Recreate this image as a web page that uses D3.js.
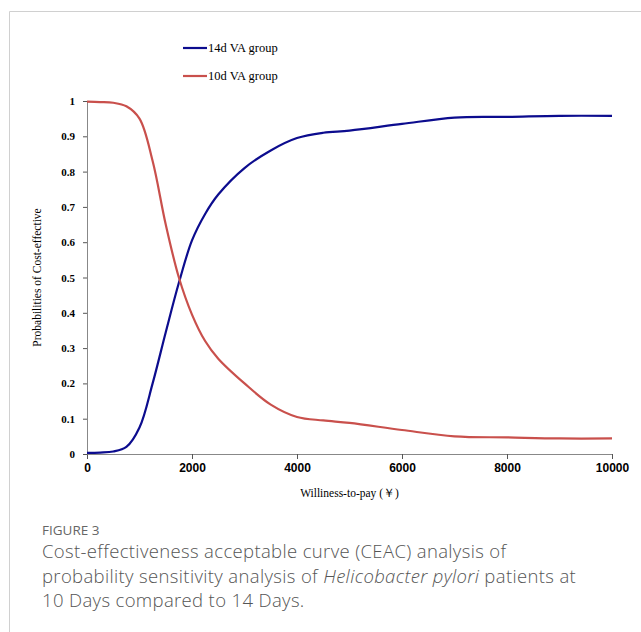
<!DOCTYPE html>
<html>
<head>
<meta charset="utf-8">
<script src="https://cdn.jsdelivr.net/npm/d3@7"></script>
<style>
  body { margin: 0; background: #fff; }
  #chart { position: relative; width: 641px; height: 632px; }
</style>
</head>
<body>
<div id="chart"></div>
<script>
// willingness-to-pay values (x) and probabilities
var wtp = [0, 250, 500, 750, 1000, 1250, 1500, 1750, 2000, 2250, 2500, 3000, 3500, 4000, 4500, 5000, 6000, 7000, 8000, 9000, 10000];
var group14 = [0.003, 0.004, 0.007, 0.02, 0.075, 0.2, 0.345, 0.485, 0.605, 0.68, 0.735, 0.81, 0.86, 0.895, 0.91, 0.916, 0.935, 0.953, 0.955, 0.958, 0.958];
var group10 = [0.998, 0.997, 0.995, 0.985, 0.95, 0.83, 0.65, 0.50, 0.395, 0.32, 0.27, 0.20, 0.14, 0.105, 0.095, 0.088, 0.068, 0.05, 0.047, 0.044, 0.044];
var seriesNames = ["14d VA group", "10d VA group"];
var seriesColors = ["#0c0c8e", "#c9504c"];
var xTicks = [0, 2000, 4000, 6000, 8000, 10000];
var yTicks = [0, 0.1, 0.2, 0.3, 0.4, 0.5, 0.6, 0.7, 0.8, 0.9, 1];

var width = 641, height = 632;
var plot = {left: 87, right: 612, top: 101, bottom: 454};

var svg = d3.select("#chart").append("svg")
    .attr("width", width)
    .attr("height", height);

// figure frame (top + left edge)
svg.append("path")
    .attr("d", "M9.5,632 V11.5 H641")
    .style("fill", "none")
    .style("stroke", "#d0d0d0")
    .style("stroke-width", 1);

var x = d3.scaleLinear().domain([0, 10000]).range([plot.left, plot.right]);
var y = d3.scaleLinear().domain([0, 1]).range([plot.bottom, plot.top]);

// x axis
var xAxis = svg.append("g")
    .attr("transform", "translate(0," + plot.bottom + ")")
    .call(d3.axisBottom(x).tickValues(xTicks).tickSize(5).tickSizeOuter(0).tickFormat(d3.format("d")));
xAxis.select(".domain").style("stroke", "#888");
xAxis.selectAll(".tick line").style("stroke", "#555");
xAxis.selectAll(".tick text")
    .attr("y", 9)
    .style("font-family", "Arial, 'Liberation Sans', sans-serif")
    .style("font-weight", "bold")
    .style("font-size", "12px")
    .style("fill", "#000");

// y axis
var yAxis = svg.append("g")
    .attr("transform", "translate(" + plot.left + ",0)")
    .call(d3.axisLeft(y).tickValues(yTicks).tickSize(4).tickSizeOuter(0).tickFormat(function(d) { return String(d); }));
yAxis.select(".domain").style("stroke", "#888");
yAxis.selectAll(".tick line").style("stroke", "#555");
yAxis.selectAll(".tick text")
    .attr("x", -12)
    .style("font-family", "'Liberation Serif', 'Times New Roman', serif")
    .style("font-weight", "bold")
    .style("font-size", "11px")
    .style("fill", "#000");

// axis titles
svg.append("text")
    .attr("transform", "translate(41," + ((plot.top + plot.bottom) / 2) + ") rotate(-90)")
    .attr("text-anchor", "middle")
    .style("font-family", "'Liberation Serif', 'Times New Roman', serif")
    .style("font-size", "11.5px")
    .text("Probabilities of Cost-effective");

svg.append("text")
    .attr("x", (plot.left + plot.right) / 2)
    .attr("y", 497)
    .attr("text-anchor", "middle")
    .style("font-family", "'Liberation Serif', 'Times New Roman', serif")
    .style("font-size", "11.5px")
    .text("Williness-to-pay (\uFFE5)");

// curves
var line = d3.line()
    .x(function(d) { return x(d[0]); })
    .y(function(d) { return y(d[1]); })
    .curve(d3.curveCatmullRom.alpha(0.5));

[group14, group10].forEach(function(vals, i) {
    svg.append("path")
        .datum(wtp.map(function(w, j) { return [w, vals[j]]; }))
        .attr("d", line)
        .style("fill", "none")
        .style("stroke", seriesColors[i])
        .style("stroke-width", 2.2);
});

// legend
seriesNames.forEach(function(name, i) {
    var ly = 48 + i * 28;
    svg.append("line")
        .attr("x1", 183).attr("x2", 207)
        .attr("y1", ly).attr("y2", ly)
        .style("stroke", seriesColors[i])
        .style("stroke-width", 2.2);
    svg.append("text")
        .attr("x", 208)
        .attr("y", ly + 4)
        .style("font-family", "'Liberation Serif', 'Times New Roman', serif")
        .style("font-size", "12.5px")
        .text(name);
});

// caption
var cap = svg.append("g").style("font-family", "'Open Sans', sans-serif");
cap.append("text")
    .attr("x", 42).attr("y", 535)
    .style("font-size", "13.5px")
    .style("fill", "#666")
    .text("FIGURE 3");
var capLines = [
    ["Cost-effectiveness acceptable curve (CEAC) analysis of"],
    ["probability sensitivity analysis of ", "Helicobacter pylori", " patients at"],
    ["10 Days compared to 14 Days."]
];
capLines.forEach(function(parts, i) {
    var t = cap.append("text")
        .attr("x", 42).attr("y", 558 + i * 24.5)
        .style("font-size", "18.5px")
        .style("letter-spacing", "0.35px")
        .style("font-weight", 300)
        .style("fill", "#555");
    parts.forEach(function(p, k) {
        t.append("tspan").style("font-style", k === 1 ? "italic" : "normal").text(p);
    });
});
</script>
</body>
</html>
